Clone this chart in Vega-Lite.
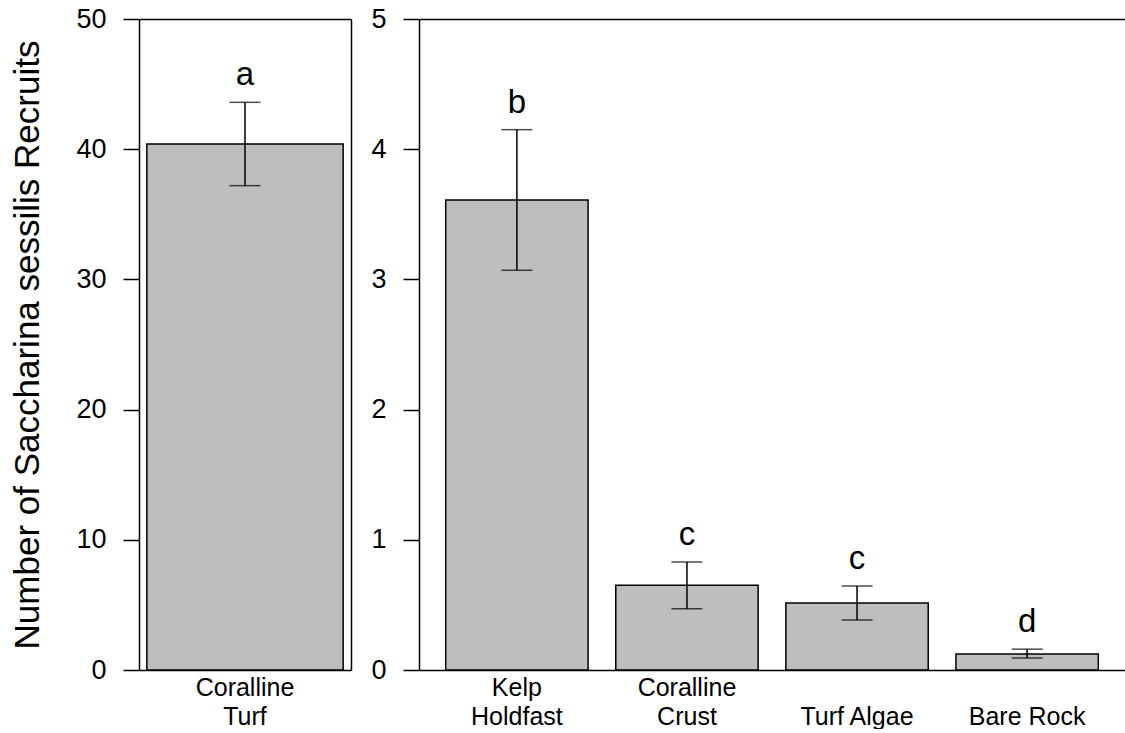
{
  "$schema": "https://vega.github.io/schema/vega-lite/v6.json",
  "padding": {"left": 10, "top": 5, "right": 0, "bottom": 0},
  "spacing": 19,
  "config": {
    "view": {"stroke": null},
    "font": "Liberation Sans",
    "text": {"font": "Liberation Sans", "color": "black"},
    "axis": {
      "domainColor": "black", "domainWidth": 1.5,
      "tickColor": "black", "tickWidth": 1.5, "tickSize": 16,
      "labelFont": "Liberation Sans", "labelFontSize": 27, "labelColor": "black", "labelPadding": 17,
      "grid": false,
      "titleFont": "Liberation Sans", "titleFontSize": 35, "titleColor": "black", "titleFontWeight": "normal", "titlePadding": 30
    },
    "axisBand": {"labelFontSize": 25, "labelPadding": 5, "labelLineHeight": 29, "labelAngle": 0, "ticks": false}
  },
  "hconcat": [
    {
      "width": 212, "height": 651,
      "data": {"values": [
        {"substrate": "Coralline Turf", "mean": 40.4, "lo": 37.2, "hi": 43.6, "letter": "a"}
      ]},
      "layer": [
        {
          "mark": {"type": "bar", "fill": "#bebebe", "stroke": "black", "strokeWidth": 1.5},
          "encoding": {
            "x": {"field": "substrate", "type": "nominal", "scale": {"paddingInner": 0, "paddingOuter": 0.04},
                  "axis": {"orient": "bottom", "title": null, "labelExpr": "split(datum.value, ' ')"}},
            "y": {"field": "mean", "type": "quantitative", "scale": {"domain": [0, 50], "nice": false},
                  "axis": {"orient": "left", "values": [0, 10, 20, 30, 40, 50], "title": "Number of Saccharina sessilis Recruits"}}
          }
        },
        {
          "mark": {"type": "rule", "color": "black", "strokeWidth": 1.5},
          "encoding": {
            "x": {"field": "substrate", "type": "nominal", "axis": {"orient": "top", "labels": false, "ticks": false, "title": null}},
            "y": {"field": "lo", "type": "quantitative", "axis": {"orient": "right", "labels": false, "ticks": false, "title": null}},
            "y2": {"field": "hi"}
          }
        },
        {
          "mark": {"type": "tick", "color": "black", "thickness": 1.5, "size": 31},
          "encoding": {
            "x": {"field": "substrate", "type": "nominal", "axis": null},
            "y": {"field": "lo", "type": "quantitative", "axis": null}
          }
        },
        {
          "mark": {"type": "tick", "color": "black", "thickness": 1.5, "size": 31},
          "encoding": {
            "x": {"field": "substrate", "type": "nominal", "axis": null},
            "y": {"field": "hi", "type": "quantitative", "axis": null}
          }
        },
        {
          "mark": {"type": "text", "baseline": "alphabetic", "dy": -17, "fontSize": 33, "color": "black"},
          "encoding": {
            "x": {"field": "substrate", "type": "nominal", "axis": null},
            "y": {"field": "hi", "type": "quantitative", "axis": null},
            "text": {"field": "letter"}
          }
        }
      ],
      "resolve": {"axis": {"x": "independent", "y": "independent"}}
    },
    {
      "width": 706, "height": 651,
      "data": {"values": [
        {"substrate": "Kelp Holdfast", "mean": 3.61, "lo": 3.07, "hi": 4.15, "letter": "b"},
        {"substrate": "Coralline Crust", "mean": 0.65, "lo": 0.47, "hi": 0.83, "letter": "c"},
        {"substrate": "Turf Algae", "mean": 0.515, "lo": 0.384, "hi": 0.645, "letter": "c"},
        {"substrate": "Bare Rock", "mean": 0.123, "lo": 0.092, "hi": 0.16, "letter": "d"}
      ]},
      "layer": [
        {
          "mark": {"type": "bar", "fill": "#bebebe", "stroke": "black", "strokeWidth": 1.5},
          "encoding": {
            "x": {"field": "substrate", "type": "nominal", "sort": null, "scale": {"paddingInner": 0.163, "paddingOuter": 0.157},
                  "axis": {"orient": "bottom", "title": null, "labelExpr": "datum.value == 'Turf Algae' || datum.value == 'Bare Rock' ? [' ', datum.value] : split(datum.value, ' ')"}},
            "y": {"field": "mean", "type": "quantitative", "scale": {"domain": [0, 5], "nice": false},
                  "axis": {"orient": "left", "values": [0, 1, 2, 3, 4, 5], "title": null}}
          }
        },
        {
          "mark": {"type": "rule", "color": "black", "strokeWidth": 1.5},
          "encoding": {
            "x": {"field": "substrate", "type": "nominal", "sort": null, "axis": {"orient": "top", "labels": false, "ticks": false, "title": null}},
            "y": {"field": "lo", "type": "quantitative", "axis": null},
            "y2": {"field": "hi"}
          }
        },
        {
          "mark": {"type": "tick", "color": "black", "thickness": 1.5, "size": 31},
          "encoding": {
            "x": {"field": "substrate", "type": "nominal", "sort": null, "axis": null},
            "y": {"field": "lo", "type": "quantitative", "axis": null}
          }
        },
        {
          "mark": {"type": "tick", "color": "black", "thickness": 1.5, "size": 31},
          "encoding": {
            "x": {"field": "substrate", "type": "nominal", "sort": null, "axis": null},
            "y": {"field": "hi", "type": "quantitative", "axis": null}
          }
        },
        {
          "mark": {"type": "text", "baseline": "alphabetic", "dy": -17, "fontSize": 33, "color": "black"},
          "encoding": {
            "x": {"field": "substrate", "type": "nominal", "sort": null, "axis": null},
            "y": {"field": "hi", "type": "quantitative", "axis": null},
            "text": {"field": "letter"}
          }
        }
      ],
      "resolve": {"axis": {"x": "independent", "y": "independent"}}
    }
  ]
}
